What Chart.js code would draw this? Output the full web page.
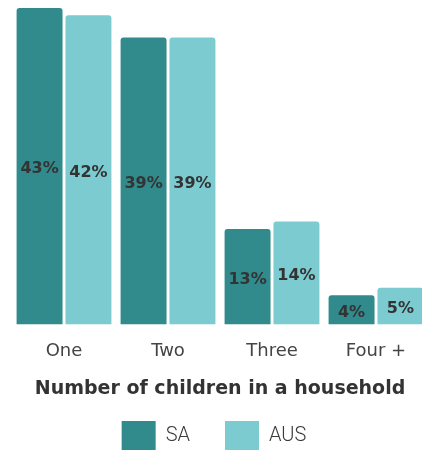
<!DOCTYPE html>
<html>
<head>
<meta charset="utf-8">
<script src="https://cdn.jsdelivr.net/npm/chart.js@4"></script>
<style>
  body { margin: 0; background: #fff; }
  #wrap { width: 422px; height: 450px; overflow: hidden; }
</style>
</head>
<body>
<div id="wrap"><canvas id="chart" width="432" height="461"></canvas></div>
<script>
const ctx = document.getElementById("chart");

const labels = ['One', 'Two', 'Three', 'Four +']
const saValues = [43, 39, 13, 4]
const ausValues = [42, 39, 14, 5]
const seriesNames = ['SA', 'AUS']

// draws the "43%" labels in the middle of each bar
const barLabels = {
    id: 'barLabels',
    afterDatasetsDraw(chart) {
        const c = chart.ctx
        c.save()
        c.font = 'bold 16px "DejaVu Sans"'
        c.fillStyle = '#333333'
        c.textAlign = 'center'
        c.textBaseline = 'middle'
        chart.data.datasets.forEach((ds, i) => {
            chart.getDatasetMeta(i).data.forEach((bar, j) => {
                c.fillText(ds.data[j] + '%', bar.x, (bar.y + bar.base) / 2 + 3)
            })
        })
        c.restore()
    }
}

// legend sits a little left of the plot centre in the original
const legendShift = {
    id: 'legendShift',
    afterLayout(chart) {
        chart.legend.left -= 12
    }
}

const lineChart = new Chart(ctx, {
    type: 'bar',
    data: {
        labels: labels,
        datasets: [{
            label: seriesNames[0],
            data: saValues,
            backgroundColor: '#318a8b',
            borderRadius: 3,
            borderSkipped: 'bottom',
            barPercentage: 0.94,
            categoryPercentage: 0.94
        }, {
            label: seriesNames[1],
            data: ausValues,
            backgroundColor: '#7ccbd0',
            borderRadius: 3,
            borderSkipped: 'bottom',
            barPercentage: 0.94,
            categoryPercentage: 0.94
        }]
    },
    options: {
        responsive: false,
        animation: false,
        layout: {
            padding: { left: 12, right: 4, top: 8, bottom: 0 }
        },
        scales: {
            y: {
                display: false,
                min: 0,
                max: 43
            },
            x: {
                grid: { display: false, drawTicks: false },
                border: { display: false },
                ticks: {
                    padding: 16,
                    color: '#444444',
                    font: { family: '"DejaVu Sans"', size: 18 }
                },
                title: {
                    display: true,
                    text: 'Number of children in a household',
                    color: '#333333',
                    font: { family: '"DejaVu Sans"', size: 19, weight: 'bold' },
                    padding: { top: -1, bottom: -14 }
                }
            }
        },
        plugins: {
            legend: {
                position: 'bottom',
                labels: {
                    boxWidth: 34,
                    boxHeight: 30,
                    padding: 35,
                    color: '#3a3a3a',
                    font: { family: 'Roboto', size: 20, weight: 300 }
                }
            },
            tooltip: { enabled: false }
        }
    },
    plugins: [barLabels, legendShift]
});
</script>
</body>
</html>
